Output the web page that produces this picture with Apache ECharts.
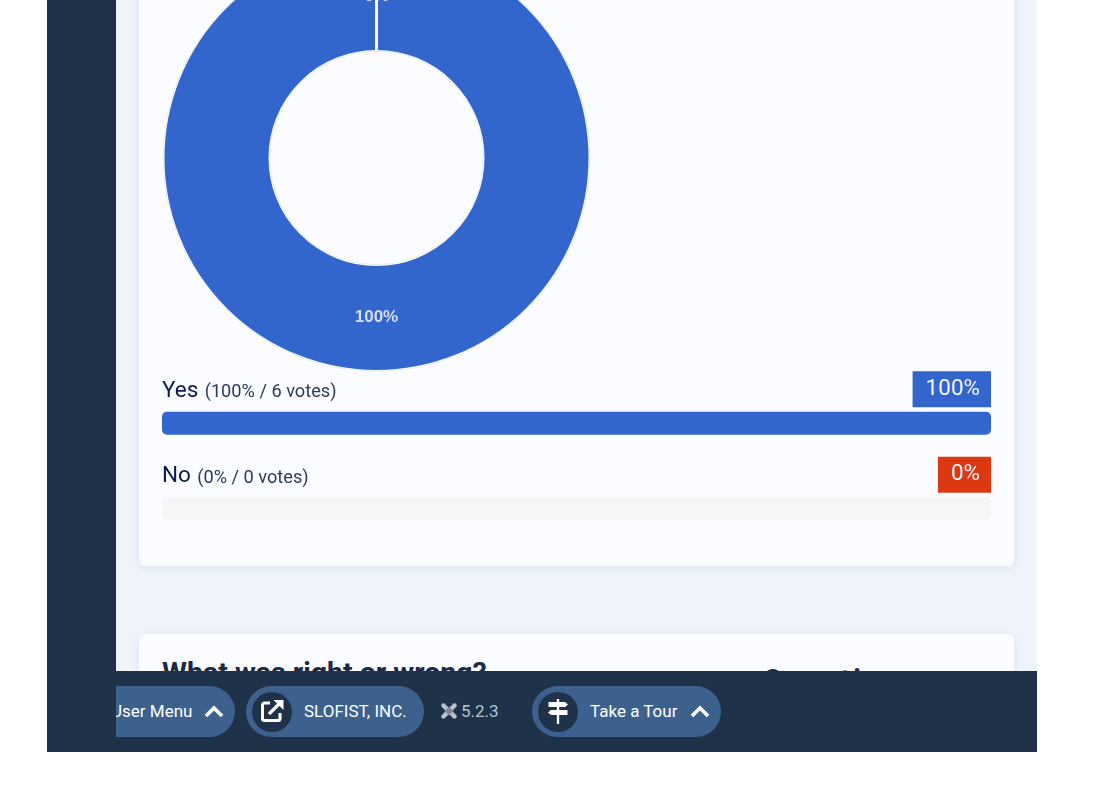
<!DOCTYPE html>
<html><head><meta charset="utf-8">
<style>
html,body{margin:0;padding:0;background:#fff;width:1098px;height:796px;overflow:hidden;font-family:Roboto,sans-serif}
.abs{position:absolute}
#frame{left:47px;top:0;width:990px;height:752px;background:#eff4fb;overflow:hidden}
#side{left:47px;top:0;width:69px;height:752px;background:#20314a}
.card{background:#fbfcff;border-radius:6px;box-shadow:0 2px 8px rgba(60,90,140,.10)}
#chart{left:0;top:0;width:1098px;height:796px}
#bar{left:116px;top:671px;width:921px;height:81px;background:#20314a;overflow:hidden}
.pill{position:absolute;top:15px;height:51px;border-radius:26px;background:#3d618d}
.disc{position:absolute;top:21px;width:40px;height:40px;border-radius:20px;background:#20314a}
.t{position:absolute;top:30px;line-height:20px;font-size:17px;color:#fff;white-space:nowrap}
svg{position:absolute}
</style></head><body>
<div class="abs" id="frame">
  <div class="abs card" style="left:92px;top:-20px;width:875px;height:586px"></div>
  <div class="abs card" style="left:92px;top:634px;width:875px;height:200px"></div>
</div>
<div class="abs" id="side"></div>
<div class="abs" style="left:162px;top:656px;font-size:28.500px;font-weight:700;line-height:34px;color:#1a2b45;white-space:nowrap">What was right or wrong?</div>
<div class="abs" style="left:763px;top:663px;font-size:28.500px;font-weight:700;line-height:34px;letter-spacing:3px;color:#1a2b45;white-space:nowrap">Questions</div>
<div class="abs" id="chart"></div>
<div class="abs" id="bar">
  <div class="pill" style="left:-40px;width:159px"></div>
  <div class="t" style="left:-5px">User Menu</div>
  <svg style="left:88px;top:33px" width="20" height="14" viewBox="0 0 20 14"><path d="M2 12L10 4l8 8" fill="none" stroke="#fff" stroke-width="3.600"/></svg>
  <div class="pill" style="left:130px;width:178px"></div>
  <div class="disc" style="left:136px"></div>
  <svg style="left:144px;top:28px" width="24" height="24" viewBox="0 0 24 24"><path d="M10 4H4.500A2 2 0 0 0 2.500 6v13.500a2 2 0 0 0 2 2H18a2 2 0 0 0 2-2V14" fill="none" stroke="#fff" stroke-width="3"/><path d="M9 15L20 4" fill="none" stroke="#fff" stroke-width="3.200"/><path d="M13.500 1H23.500V11z" fill="#fff"/></svg>
  <div class="t" style="left:188px">SLOFIST, INC.</div>
  <svg style="left:325px;top:32px" width="16" height="16" viewBox="0 0 16 16"><path d="M3 3l10 10M13 3L3 13" stroke="#b9c2cd" stroke-width="4.500"/><path d="M8 3.500L12.500 8 8 12.500 3.500 8z" fill="#7f8b9b"/><circle cx="2.500" cy="2.500" r="2.200" fill="#b9c2cd"/><circle cx="13.500" cy="2.500" r="2.200" fill="#b9c2cd"/><circle cx="2.500" cy="13.500" r="2.200" fill="#b9c2cd"/><circle cx="13.500" cy="13.500" r="2.200" fill="#b9c2cd"/></svg>
  <div class="t" style="left:345px;color:#b9c2cd">5.2.3</div>
  <div class="pill" style="left:416px;width:189px"></div>
  <div class="disc" style="left:422px"></div>
  <svg style="left:431px;top:28px" width="22" height="26" viewBox="0 0 22 26"><path d="M1.500 3h16.500l3 2.500-3 2.500H1.500z" fill="#fff"/><path d="M20.500 11H4l-3 2.500L4 16h16.500z" fill="#fff"/><path d="M11 0v3M11 8v3M11 16v9" stroke="#fff" stroke-width="2.400"/></svg>
  <div class="t" style="left:474px">Take a Tour</div>
  <svg style="left:574px;top:33px" width="20" height="14" viewBox="0 0 20 14"><path d="M2 12L10 4l8 8" fill="none" stroke="#fff" stroke-width="3.600"/></svg>
</div>
<script src="https://cdn.jsdelivr.net/npm/echarts@6/dist/echarts.min.js"></script>
<script>
const categories = ['Yes', 'No'];
const votes = [6, 0];
const percents = [100, 0];
const sliceColors = ['#3366cc', '#dc3912'];
const badgeColors = ['#3366cc', '#dc3912'];
const trackValues = [100, 100];

const chart = echarts.init(document.getElementById('chart'), null, {renderer: 'canvas'});
chart.setOption({
  backgroundColor: 'transparent',
  animation: false,
  grid: {left: 162, width: 829, top: 380.5, height: 171},
  xAxis: {type: 'value', min: 0, max: 100, show: false},
  yAxis: {type: 'category', data: categories, inverse: true, show: false},
  graphic: [{
    type: 'text', x: 376.5, y: -4, z: 10, silent: true,
    style: {text: percents[1] + '%', fill: '#d3def3', font: 'bold 17px "Liberation Sans"', textAlign: 'center', textVerticalAlign: 'middle'}
  }],
  series: [
    {
      type: 'pie', center: [376.5, 158], radius: [106.6, 213.4], startAngle: 90, silent: true, z: 3,
      data: [{name: 'outline', value: 1}],
      itemStyle: {color: 'rgba(0,0,0,0)', borderColor: '#d4d8df', borderWidth: 0.6},
      label: {show: false}, labelLine: {show: false}
    },
    {
      type: 'pie', center: [376.5, 158], radius: [106.5, 213.5], startAngle: 90, clockwise: true, z: 2,
      silent: true, minShowLabelAngle: 0, stillShowZeroSum: true, avoidLabelOverlap: false,
      data: categories.map((c, i) => ({name: c, value: votes[i], itemStyle: {color: sliceColors[i]}})),
      itemStyle: {borderColor: '#fff', borderWidth: 3},
      label: {position: 'inside', offset: [0, -4], formatter: p => p.percent + '%', color: '#d3def3', fontFamily: 'Liberation Sans', fontSize: 17, fontWeight: 'bold'},
      labelLine: {show: false}
    },
    {
      type: 'bar', barWidth: 23, z: 2,
      data: percents.map((v, i) => ({value: v, itemStyle: {color: sliceColors[i]}})),
      showBackground: true,
      backgroundStyle: {color: '#f5f5f5', borderRadius: 5},
      itemStyle: {borderRadius: 5},
      label: {
        show: true, position: 'insideLeft', distance: 0, offset: [0, -32],
        formatter: p => `{a|${categories[p.dataIndex]}} {b|(${percents[p.dataIndex]}% / ${votes[p.dataIndex]} votes)}`,
        rich: {
          a: {fontFamily: 'Roboto', fontSize: 22.5, color: '#0c1c4c'},
          b: {fontFamily: 'Roboto', fontSize: 18.2, color: '#2b3a5c', padding: [3, 0, 0, 3]}
        }
      }
    },
    {
      type: 'bar', barWidth: 23, barGap: '-100%', z: 3, silent: true,
      data: trackValues.map((v, i) => ({value: v, label: {backgroundColor: badgeColors[i]}})),
      itemStyle: {color: 'rgba(0,0,0,0)'},
      label: {
        show: true, position: 'insideRight', distance: 0, offset: [0, -34],
        formatter: p => percents[p.dataIndex] + '%',
        color: '#f3f6fc', fontFamily: 'Roboto', fontSize: 22.5, fontWeight: 400,
        lineHeight: 30, height: 30, padding: [6, 11, 0, 13]
      }
    }
  ]
});
</script>
</body></html>
